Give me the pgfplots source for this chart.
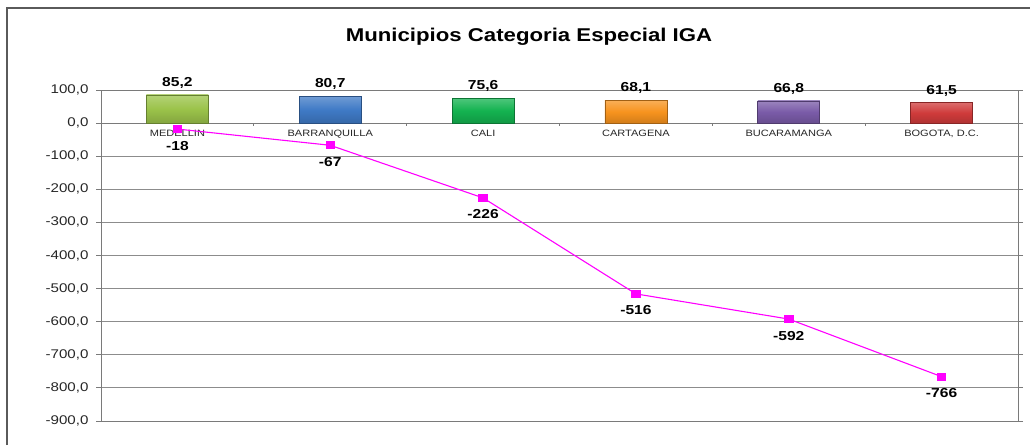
\documentclass[border=0pt]{standalone}
\usepackage{fontspec}
\setmainfont{Liberation Sans}[FakeStretch=1.2]
\usepackage{pgfplots}
\pgfplotsset{compat=1.18}
\pgfplotsset{/pgf/number format/assume math mode=true}
\definecolor{gridc}{HTML}{8C8C8C}
\definecolor{axisc}{HTML}{7A7A7A}
\definecolor{framec}{HTML}{5A5A5A}
\definecolor{mag}{HTML}{FF00FF}
\definecolor{cmed}{HTML}{9BC34A}
\definecolor{cbaq}{HTML}{3F7AC6}
\definecolor{ccal}{HTML}{14B350}
\definecolor{ccar}{HTML}{F7931E}
\definecolor{cbuc}{HTML}{7A5BA8}
\definecolor{cbog}{HTML}{CF3B3B}
\pgfplotsset{barsty/.style={ybar, bar shift=0pt, bar width=62pt, draw=#1!65!black, line width=0.7pt,
  top color=#1!75!white, bottom color=#1!85!black, middle color=#1,
  nodes near coords={\pgfmathprintnumber[fixed,fixed zerofill,precision=1,use comma]{\pgfplotspointmeta}},
  point meta=y,
  every node near coord/.append style={font=\bfseries\fontsize{13}{15}\selectfont, text=black, yshift=3pt}}}
\tikzset{catlab/.style={anchor=north, inner sep=0pt, yshift=-7pt, font=\fontsize{9.2}{11}\selectfont, text=black!85},
  xtk/.style={axisc, line width=0.8pt}}
\begin{document}
\begin{tikzpicture}
\useasboundingbox (0,0) rectangle (1030pt,445pt);
\draw[color=framec, line width=1.2pt] (7pt,0) -- (7pt,437pt) -- (1030pt,437pt);
\node[anchor=base, font=\fontsize{18.5}{20}\selectfont\bfseries] at (529pt,403pt) {Municipios Categoria Especial IGA};
\begin{axis}[
 at={(101pt,24pt)}, anchor=south west,
 scale only axis, width=917pt, height=331pt,
 xmin=-0.5, xmax=5.5, ymin=-900, ymax=100,
 xtick=\empty, ytick={-900,-800,...,100},
 ymajorgrids, grid style={gridc, line width=0.9pt},
 axis line style={axisc, line width=1pt},
 y tick style={axisc, line width=0.9pt},
 tick align=outside, major tick length=5pt,
 yticklabel style={font=\fontsize{12.6}{14}\selectfont, text=black!85, xshift=-4pt,
   /pgf/number format/.cd, use comma, fixed, fixed zerofill, precision=1},
 clip=false,
]
\draw[axisc, line width=1pt] (axis cs:-0.5,0) -- (axis cs:5.5,0);
\draw[xtk] (axis cs:0.5,0) -- ([yshift=-2.5pt]axis cs:0.5,0);
\draw[xtk] (axis cs:1.5,0) -- ([yshift=-2.5pt]axis cs:1.5,0);
\draw[xtk] (axis cs:2.5,0) -- ([yshift=-2.5pt]axis cs:2.5,0);
\draw[xtk] (axis cs:3.5,0) -- ([yshift=-2.5pt]axis cs:3.5,0);
\draw[xtk] (axis cs:4.5,0) -- ([yshift=-2.5pt]axis cs:4.5,0);
\addplot[barsty=cmed] coordinates {(0,85.2)};
\addplot[barsty=cbaq] coordinates {(1,80.7)};
\addplot[barsty=ccal] coordinates {(2,75.6)};
\addplot[barsty=ccar] coordinates {(3,68.1)};
\addplot[barsty=cbuc] coordinates {(4,66.8)};
\addplot[barsty=cbog] coordinates {(5,61.5)};
\node[catlab] at (axis cs:0,0) {MEDELLIN};
\node[catlab] at (axis cs:1,0) {BARRANQUILLA};
\node[catlab] at (axis cs:2,0) {CALI};
\node[catlab] at (axis cs:3,0) {CARTAGENA};
\node[catlab] at (axis cs:4,0) {BUCARAMANGA};
\node[catlab] at (axis cs:5,0) {BOGOTA, D.C.};
\addplot[color=mag, line width=1.1pt, mark=square*, mark size=3.5pt, mark options={xscale=1.2, fill=mag, draw=mag},
  point meta=y,
  nodes near coords={\pgfmathprintnumber[fixed,precision=0]{\pgfplotspointmeta}},
  every node near coord/.append style={anchor=north, yshift=-8pt, font=\bfseries\fontsize{13}{15}\selectfont, text=black}]
  coordinates {(0,-18) (1,-67) (2,-226) (3,-516) (4,-592) (5,-766)};
\end{axis}
\end{tikzpicture}
\end{document}
